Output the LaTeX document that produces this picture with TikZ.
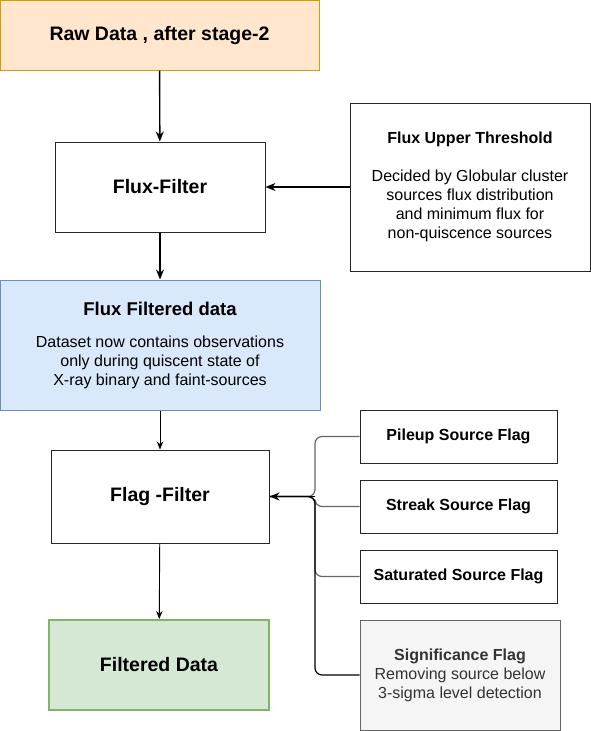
\documentclass[tikz,border=0pt]{standalone}
\usepackage{xcolor}
\usepackage{fontspec}
\setmainfont{Liberation Sans}
\usepackage{tikz}
\usetikzlibrary{arrows.meta,positioning,calc}

\definecolor{rawfill}{HTML}{FFE6CC}
\definecolor{rawdraw}{HTML}{D79B00}
\definecolor{bluefill}{HTML}{DAE8FC}
\definecolor{bluedraw}{HTML}{6C8EBF}
\definecolor{greenfill}{HTML}{D5E8D4}
\definecolor{greendraw}{HTML}{82B366}
\definecolor{greyfill}{HTML}{F5F5F5}
\definecolor{greydraw}{HTML}{666666}
\definecolor{greytext}{HTML}{333333}

\begin{document}
\begin{tikzpicture}[
    x=1pt, y=-1pt,
    every node/.style={font=\fontsize{16}{19}\selectfont, align=center},
    box/.style={draw=black!85, fill=white, line width=1pt, inner sep=0pt},
    bigbox/.style={box, font=\fontsize{19.5}{23}\selectfont\bfseries},
    flagbox/.style={box, minimum width=197, minimum height=53, font=\fontsize{16}{19}\selectfont\bfseries},
    arr/.style={-{Stealth[length=10pt,width=8pt]}, line width=1.4pt},
    thinarr/.style={-{Stealth[length=8pt,width=6.5pt]}, line width=0.9pt},
    bus/.style={draw=black!60, line width=1.2pt, rounded corners=7pt}
]
\useasboundingbox (0,0) rectangle (591,731);

% main column
\node[bigbox, draw=rawdraw, fill=rawfill, minimum width=319, minimum height=70] (raw) at (159.5,35) {Raw Data , after stage-2};
\node[bigbox, minimum width=210, minimum height=90] (fluxfilter) at (160,187) {Flux-Filter};
\node[box, draw=bluedraw, fill=bluefill, minimum width=320, minimum height=130] (fluxdata) at (160,345)
    {{\fontsize{18.5}{22}\selectfont\bfseries Flux Filtered data}\\[13pt]
     Dataset now contains observations\\only during quiscent state of\\X-ray binary and faint-sources};
\node[bigbox, minimum width=218, minimum height=93] (flagfilter) at (160,496.5) {Flag -Filter};
\node[bigbox, draw=greendraw, fill=greenfill, line width=2pt, minimum width=220, minimum height=90] (filtered) at (159,665) {Filtered Data};

% threshold
\node[box, minimum width=240, minimum height=168] (threshold) at (470,187)
    {{\bfseries Flux Upper Threshold}\\[19pt]
     Decided by Globular cluster\\sources flux distribution\\and minimum flux for\\non-quiscence sources};

% flags
\node[flagbox] (pileup) at (458.5,436.5) {Pileup Source Flag};
\node[flagbox] (streak) at (458.5,506.5) {Streak Source Flag};
\node[flagbox] (saturated) at (458.5,576.5) {Saturated Source Flag};
\node[box, draw=greydraw, fill=greyfill, text=greytext, minimum width=200, minimum height=110] (significance) at (460,675)
    {{\bfseries Significance Flag}\\Removing source below\\3-sigma level detection};

% connectors
\draw[arr] (raw) -- (fluxfilter);
\draw[arr] (fluxfilter) -- (fluxdata);
\draw[arr] (threshold.west |- fluxfilter) -- (fluxfilter);
\draw[thinarr] (fluxdata) -- (flagfilter);
\draw[thinarr] (flagfilter) -- (filtered);

\coordinate (join) at (315,496.5);
\draw[bus] (pileup.west) -| (join) -- (flagfilter.east);
\draw[bus] (streak.west) -| (join) -- (flagfilter.east);
\draw[bus] (saturated.west) -| (join) -- (flagfilter.east);
\draw[bus, draw=black] (significance.west) -| (join) -- (flagfilter.east);
\draw[arr] (join) -- (flagfilter.east);
\end{tikzpicture}
\end{document}
